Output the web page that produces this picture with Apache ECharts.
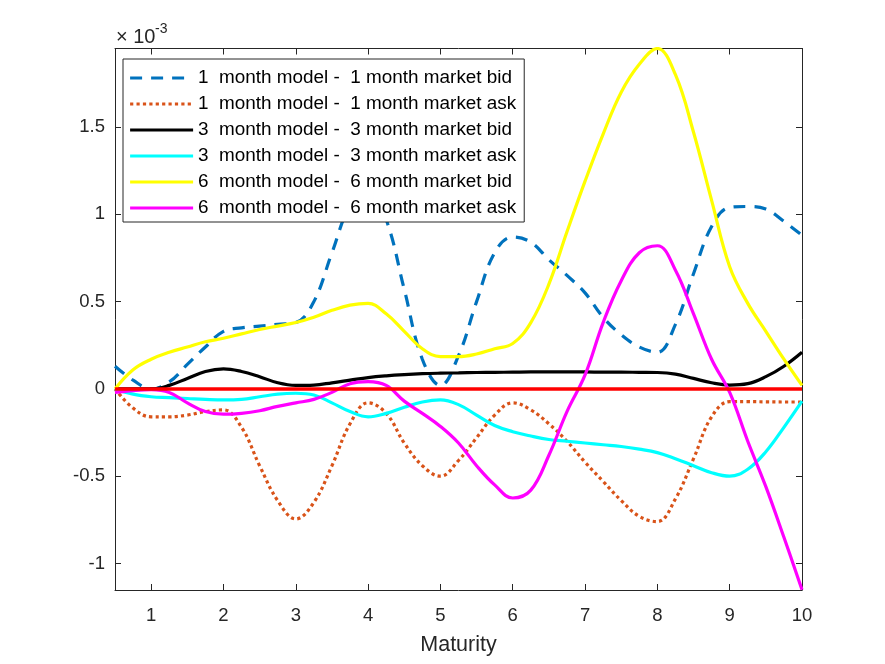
<!DOCTYPE html>
<html><head><meta charset="utf-8">
<script src="https://cdn.jsdelivr.net/npm/echarts@6/dist/echarts.min.js"></script>
<style>html,body{margin:0;padding:0;background:#fff}#c{width:885px;height:664px}</style>
</head><body><div id="c"></div>
<script>
// values are in units of 1e-3
const maturity = [0.5,0.75,1,1.25,1.5,1.75,2,2.25,2.5,2.75,3,3.25,3.5,3.75,4,4.25,4.5,4.75,5,5.25,5.5,5.75,6,6.25,6.5,6.75,7,7.25,7.5,7.75,8,8.25,8.5,8.75,9,9.25,9.5,9.75,10];
const bid1m = [0.13,0.05,0.0,0.04,0.14,0.24,0.33,0.35,0.36,0.37,0.38,0.5,0.78,1.05,1.15,0.97,0.57,0.17,0.02,0.19,0.5,0.78,0.87,0.84,0.74,0.65,0.55,0.41,0.31,0.24,0.21,0.37,0.66,0.93,1.04,1.045,1.03,0.96,0.88];
const ask1m = [0,-0.11,-0.16,-0.16,-0.15,-0.13,-0.12,-0.22,-0.44,-0.64,-0.745,-0.65,-0.44,-0.2,-0.08,-0.14,-0.31,-0.44,-0.5,-0.41,-0.28,-0.15,-0.08,-0.12,-0.2,-0.3,-0.42,-0.53,-0.64,-0.73,-0.76,-0.63,-0.4,-0.16,-0.073,-0.073,-0.074,-0.075,-0.075];
const bid3m = [0,0,0,0.02,0.06,0.1,0.115,0.1,0.07,0.035,0.02,0.022,0.035,0.05,0.065,0.075,0.082,0.087,0.09,0.092,0.094,0.095,0.096,0.097,0.097,0.097,0.097,0.096,0.096,0.095,0.094,0.085,0.06,0.035,0.022,0.03,0.07,0.13,0.21];
const ask3m = [0,-0.03,-0.045,-0.05,-0.055,-0.06,-0.063,-0.06,-0.045,-0.03,-0.025,-0.035,-0.08,-0.13,-0.16,-0.14,-0.105,-0.075,-0.063,-0.09,-0.15,-0.21,-0.245,-0.27,-0.29,-0.3,-0.31,-0.32,-0.33,-0.345,-0.365,-0.4,-0.44,-0.48,-0.5,-0.46,-0.36,-0.22,-0.07];
const bid6m = [0,0.11,0.17,0.21,0.24,0.27,0.29,0.315,0.34,0.36,0.38,0.41,0.45,0.48,0.49,0.43,0.33,0.23,0.185,0.185,0.2,0.23,0.26,0.38,0.6,0.9,1.19,1.46,1.7,1.86,1.95,1.8,1.47,1.08,0.7,0.49,0.33,0.17,0.02];
const ask6m = [-0.02,-0.01,-0.005,-0.02,-0.08,-0.13,-0.145,-0.14,-0.125,-0.1,-0.08,-0.06,-0.02,0.03,0.042,0.02,-0.07,-0.14,-0.215,-0.31,-0.44,-0.55,-0.625,-0.58,-0.38,-0.13,0.08,0.38,0.62,0.78,0.82,0.68,0.43,0.17,-0.02,-0.3,-0.56,-0.85,-1.15];
const zeroX = [0.5, 10];
const zeroY = [0, 0];
const seriesNames = [
  '1  month model -  1 month market bid',
  '1  month model -  1 month market ask',
  '3  month model -  3 month market bid',
  '3  month model -  3 month market ask',
  '6  month model -  6 month market bid',
  '6  month model -  6 month market ask'
];
const xTicks = [1,2,3,4,5,6,7,8,9,10];
const yTicks = [-1,-0.5,0,0.5,1,1.5];

const FONT = '"Liberation Sans", Arial, Helvetica, sans-serif';
const AX = '#262626';
function mk(name, xs, ys, color, type, width, smooth) {
  return {
    name, type: 'line', data: xs.map((x, i) => [x, ys[i]]),
    smooth: smooth, symbol: 'none', showSymbol: false,
    lineStyle: { color, width, type, cap: 'butt' },
    itemStyle: { color },
    emphasis: { disabled: true }, silent: true
  };
}
const chart = echarts.init(document.getElementById('c'), null, { renderer: 'canvas' });
const axisCommon = {
  type: 'value',
  axisLine: { show: true, onZero: false, lineStyle: { color: AX, width: 1 } },
  splitLine: { show: false }
};
chart.setOption({
  animation: false,
  backgroundColor: '#fff',
  grid: { left: 115, right: 83, top: 48.5, bottom: 74, containLabel: false },
  xAxis: [
    Object.assign({}, axisCommon, {
      min: 0.5, max: 10, position: 'bottom',
      axisTick: { show: true, inside: true, length: 6, customValues: xTicks, lineStyle: { color: AX } },
      axisLabel: { customValues: xTicks, color: AX, fontSize: 18.5, margin: 16, fontFamily: FONT },
      name: 'Maturity', nameLocation: 'middle', nameGap: 44,
      nameTextStyle: { fontSize: 21.5, color: AX, fontFamily: FONT }
    }),
    Object.assign({}, axisCommon, {
      min: 0.5, max: 10, position: 'top',
      axisTick: { show: true, inside: true, length: 6, customValues: xTicks, lineStyle: { color: AX } },
      axisLabel: { show: false }
    })
  ],
  yAxis: [
    Object.assign({}, axisCommon, {
      min: -1.152, max: 1.95, position: 'left',
      axisTick: { show: true, inside: true, length: 6, customValues: yTicks, lineStyle: { color: AX } },
      axisLabel: { customValues: yTicks, color: AX, fontSize: 18.5, margin: 10, fontFamily: FONT }
    }),
    Object.assign({}, axisCommon, {
      min: -1.152, max: 1.95, position: 'right',
      axisTick: { show: true, inside: true, length: 6, customValues: yTicks, lineStyle: { color: AX } },
      axisLabel: { show: false }
    })
  ],
  legend: {
    orient: 'vertical', left: 123, top: 59,
    data: seriesNames,
    itemWidth: 63, itemHeight: 14, itemGap: 6,
    padding: [9, 8, 4, 5.5],
    borderColor: AX, borderWidth: 1, backgroundColor: '#fff',
    selectedMode: false,
    itemStyle: { opacity: 0 },
    lineStyle: { width: 3.2 },
    textStyle: { fontSize: 18.9, color: '#000', fontFamily: FONT, lineHeight: 20 }
  },
  graphic: [
    { type: 'text', left: 116, top: 27, style: { text: '× 10', font: '20px ' + FONT, fill: AX } },
    { type: 'text', left: 155, top: 22.5, style: { text: '-3', font: '14px ' + FONT, fill: AX } }
  ],
  series: [
    mk(seriesNames[0], maturity, bid1m, '#0072BD', [12, 9], 3.2, 0.4),
    mk(seriesNames[1], maturity, ask1m, '#D95319', [3.2, 3.2], 3.2, 0.4),
    mk(seriesNames[2], maturity, bid3m, '#000000', 'solid', 3.2, 0.4),
    mk(seriesNames[3], maturity, ask3m, '#00FFFF', 'solid', 3.2, 0.4),
    mk(seriesNames[4], maturity, bid6m, '#FFFF00', 'solid', 3.2, 0.4),
    mk(seriesNames[5], maturity, ask6m, '#FF00FF', 'solid', 3.2, 0.4),
    mk('zero', zeroX, zeroY, '#FF0000', 'solid', 3.5, false)
  ]
});
</script></body></html>
